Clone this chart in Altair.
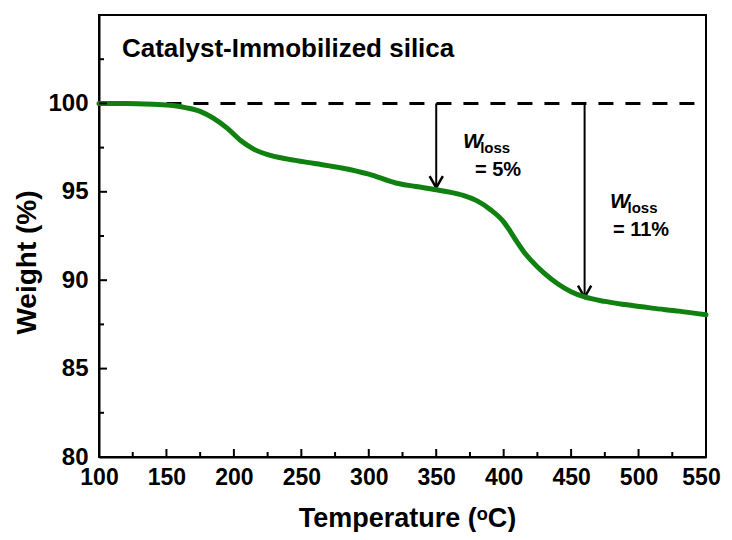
import altair as alt
import pandas as pd

# ---- data ----
temps = [100, 120, 140, 155, 165, 175, 185, 195, 205, 215, 225, 240, 260, 280, 300,
         320, 335, 350, 360, 370, 380, 390, 400, 405, 410, 415, 420, 430, 440, 450,
         460, 475, 490, 510, 530, 550]
weights = [100.0, 100.0, 99.95, 99.88, 99.75, 99.55, 99.15, 98.6, 97.9, 97.4, 97.1,
           96.85, 96.6, 96.35, 96.0, 95.5, 95.3, 95.12, 94.98, 94.8, 94.5, 94.0, 93.3,
           92.75, 92.15, 91.6, 91.15, 90.4, 89.8, 89.35, 89.05, 88.8, 88.62, 88.42,
           88.25, 88.05]

ref_start, ref_end, ref_level = 150, 550, 100
arrow_x = [350, 460]
arrow_tip = [95.23, 89.03]

x_major = [100, 150, 200, 250, 300, 350, 400, 450, 500, 550]
x_minor = [125, 175, 225, 275, 325, 375, 425, 475, 525]
y_major = [80, 85, 90, 95, 100]
y_minor = [82.5, 87.5, 92.5, 97.5, 102.5]

title_text = "Catalyst-Immobilized silica"
w_texts = ["W", "W"]
w_x = [369.8, 478.8]
w_y = [97.46, 94.08]
sub_texts = ["loss", "loss"]
sub_x = [382.6, 491.8]
sub_y = [97.18, 93.8]
eq_texts = ["= 5%", "= 11%"]
eq_x = [378.7, 481.0]
eq_y = [95.89, 92.5]

W, H = 607, 442
FONT = "Liberation Sans"
GREEN = "#108010"

xs = alt.Scale(domain=[100, 550], nice=False, zero=False)
ys = alt.Scale(domain=[80, 105], nice=False, zero=False)

curve_df = pd.DataFrame({"T": temps, "Wt": weights})

curve = alt.Chart(curve_df).mark_line(
    color=GREEN, strokeWidth=5, interpolate="monotone", strokeCap="round"
).encode(
    x=alt.X("T:Q", scale=xs,
            axis=alt.Axis(values=x_major, title="Temperature (ᵒC)", grid=False,
                          ticks=False, labelPadding=9, labelFontSize=23,
                          labelOffset={"condition": {"test": "datum.value == 550", "value": -5},
                                       "value": 0},
                          labelFont=FONT, labelFontWeight="bold", labelColor="black",
                          titleFont=FONT, titleFontSize=27, titleFontWeight="bold",
                          titleColor="black", titleX=308, titleY=69,
                          titleBaseline="alphabetic", titleAlign="center",
                          domainColor="black", domainWidth=2, labelFlush=False)),
    y=alt.Y("Wt:Q", scale=ys,
            axis=alt.Axis(values=y_major, title="Weight (%)", grid=False,
                          ticks=False, labelPadding=11, labelFontSize=24,
                          labelFont=FONT, labelFontWeight="bold", labelColor="black",
                          titleFont=FONT, titleFontSize=28, titleFontWeight="bold",
                          titleColor="black", titleAngle=270, titleX=-64, titleY=247,
                          titleBaseline="alphabetic", titleAlign="center",
                          domainColor="black", domainWidth=2, labelFlush=False)),
)

ref_df = pd.DataFrame({"T": [ref_start], "T2": [ref_end], "Wt": [ref_level]})
ref_line = alt.Chart(ref_df).mark_rule(
    color="black", strokeWidth=3, strokeDash=[15, 12]
).encode(x=alt.X("T:Q", scale=xs), x2="T2:Q", y=alt.Y("Wt:Q", scale=ys))

arr_df = pd.DataFrame({"T": arrow_x, "top": [ref_level] * 2, "tip": arrow_tip})
arr_shaft = alt.Chart(arr_df).mark_rule(color="black", strokeWidth=2).encode(
    x=alt.X("T:Q", scale=xs), y=alt.Y("top:Q", scale=ys), y2="tip:Q")
arr_head = alt.Chart(arr_df).mark_point(
    shape="M-0.57,-1L0,0L0.57,-1", filled=False, color="black", strokeWidth=2.5,
    size=540, opacity=1
).encode(x=alt.X("T:Q", scale=xs), y=alt.Y("tip:Q", scale=ys))

xt_major = alt.Chart(pd.DataFrame({"T": x_major})).mark_rule(color="black", strokeWidth=2).encode(
    x=alt.X("T:Q", scale=xs), y=alt.value(H), y2=alt.value(H - 8))
xt_minor = alt.Chart(pd.DataFrame({"T": x_minor})).mark_rule(color="black", strokeWidth=2).encode(
    x=alt.X("T:Q", scale=xs), y=alt.value(H), y2=alt.value(H - 5))
yt_major = alt.Chart(pd.DataFrame({"Wt": y_major})).mark_rule(color="black", strokeWidth=2).encode(
    y=alt.Y("Wt:Q", scale=ys), x=alt.value(0), x2=alt.value(8))
yt_minor = alt.Chart(pd.DataFrame({"Wt": y_minor})).mark_rule(color="black", strokeWidth=2).encode(
    y=alt.Y("Wt:Q", scale=ys), x=alt.value(0), x2=alt.value(5))

title_df = pd.DataFrame({"T": [117], "Wt": [102.65], "txt": [title_text]})
title = alt.Chart(title_df).mark_text(
    align="left", baseline="alphabetic", font=FONT, fontSize=26, fontWeight="bold",
    color="black"
).encode(x=alt.X("T:Q", scale=xs), y=alt.Y("Wt:Q", scale=ys), text="txt:N")

w_df = pd.DataFrame({"T": w_x, "Wt": w_y, "txt": w_texts})
w_txt = alt.Chart(w_df).mark_text(
    align="left", baseline="alphabetic", font=FONT, fontSize=21, fontWeight="bold",
    fontStyle="italic", color="black"
).encode(x=alt.X("T:Q", scale=xs), y=alt.Y("Wt:Q", scale=ys), text="txt:N")

sub_df = pd.DataFrame({"T": sub_x, "Wt": sub_y, "txt": sub_texts})
sub_txt = alt.Chart(sub_df).mark_text(
    align="left", baseline="alphabetic", font=FONT, fontSize=15, fontWeight="bold",
    color="black"
).encode(x=alt.X("T:Q", scale=xs), y=alt.Y("Wt:Q", scale=ys), text="txt:N")

eq_df = pd.DataFrame({"T": eq_x, "Wt": eq_y, "txt": eq_texts})
eq_txt = alt.Chart(eq_df).mark_text(
    align="left", baseline="alphabetic", font=FONT, fontSize=20, fontWeight="bold",
    color="black"
).encode(x=alt.X("T:Q", scale=xs), y=alt.Y("Wt:Q", scale=ys), text="txt:N")

chart = alt.layer(
    ref_line, arr_shaft, arr_head, curve, xt_major, xt_minor, yt_major, yt_minor,
    title, w_txt, sub_txt, eq_txt
).properties(
    width=W, height=H,
    autosize=alt.AutoSizeParams(type="none"),
    padding={"left": 91, "top": 7, "right": 18, "bottom": 75},
    background="white",
).configure_view(stroke="black", strokeWidth=2)

chart.save("out.html", embed_options={"renderer": "svg", "actions": False})
